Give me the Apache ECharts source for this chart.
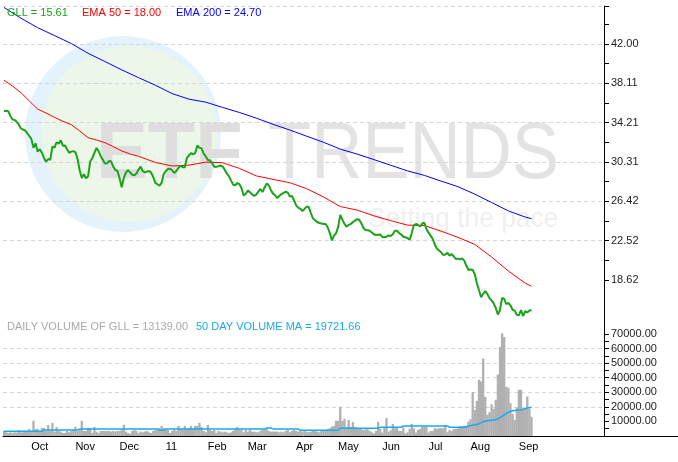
<!DOCTYPE html>
<html>
<head>
<meta charset="utf-8">
<script src="https://cdn.jsdelivr.net/npm/echarts@6/dist/echarts.min.js"></script>
<style>
  html, body { margin: 0; padding: 0; background: #fff; }
  #chart { width: 678px; height: 462px; }
</style>
</head>
<body>
<div id="chart"></div>
<script>
// GLL daily close, one value per trading day from 2010-09-15
const gll = [
  35.37, 35.37, 35.35, 34.87, 34.54, 34.47, 34.29, 34.03, 33.64, 33.53,
  33.44, 33.19, 32.89, 32.59, 31.72, 32.16, 31.34, 31.58, 31.23, 30.71,
  30.34, 30.61, 30.52, 31.83, 31.73, 32.27, 32.12, 32.46, 31.92, 31.94,
  31.57, 31.23, 31.34, 31.39, 31.27, 30.61, 29.47, 28.72, 29.09, 28.71,
  28.90, 30.37, 30.69, 31.22, 31.70, 31.38, 30.89, 30.55, 30.16, 30.19,
  30.41, 30.36, 29.83, 29.52, 29.42, 28.68, 27.82, 28.73, 29.27, 29.51,
  29.29, 29.05, 28.99, 29.18, 29.56, 29.85, 29.40, 29.29, 29.36, 29.42,
  29.26, 28.83, 28.24, 28.11, 27.96, 28.27, 29.12, 29.42, 29.61, 29.64,
  29.49, 29.23, 29.42, 29.74, 29.95, 29.79, 29.79, 30.71, 30.98, 31.18,
  31.08, 31.22, 31.95, 31.72, 31.66, 31.13, 30.86, 30.51, 30.47, 30.21,
  29.85, 29.85, 29.90, 29.97, 29.88, 29.55, 29.17, 28.91, 28.49, 28.08,
  28.00, 28.23, 28.11, 27.74, 26.99, 27.17, 27.48, 27.33, 27.10, 26.96,
  27.08, 27.38, 27.64, 27.34, 27.79, 28.18, 27.99, 27.52, 27.18, 27.02,
  26.74, 26.94, 27.14, 27.24, 27.37, 27.28, 26.90, 26.94, 26.52, 26.01,
  25.79, 25.68, 25.46, 25.67, 25.90, 25.85, 25.26, 24.73, 24.53, 24.37,
  24.27, 24.23, 24.17, 24.17, 23.85, 23.30, 22.55, 23.01, 23.25, 23.88,
  25.08, 24.60, 24.18, 23.90, 24.09, 24.17, 24.37, 24.51, 24.65, 24.59,
  24.25, 23.80, 23.57, 23.56, 23.51, 23.33, 23.16, 23.08, 23.11, 23.14,
  22.89, 22.86, 22.91, 23.04, 22.98, 23.16, 23.51, 23.50, 23.26, 23.13,
  22.91, 22.86, 22.77, 22.61, 23.27, 24.03, 24.17, 24.07, 23.92, 24.22,
  24.30, 23.67, 23.31, 23.02, 22.68, 22.14, 21.72, 21.54, 21.37, 21.10,
  21.14, 21.31, 21.04, 21.19, 20.97, 20.71, 20.74, 20.67, 20.75, 20.54,
  20.03, 19.61, 19.67, 19.63, 19.19, 18.32, 17.60, 16.91, 17.26, 17.52,
  17.23, 16.83, 16.60, 16.31, 15.85, 15.20, 15.65, 16.86, 16.76, 16.22,
  16.36, 16.09, 15.67, 15.59, 15.17, 15.13, 15.65, 15.05, 15.55, 15.40,
  15.62, 15.61
];

// moving averages: [trading-day index, value]
const ema50 = [
  [0, 38.41], [4, 37.84], [8, 37.19], [12, 36.36], [16, 35.56], [20, 35.16],
  [24, 34.74], [28, 34.35], [32, 34.01], [36, 33.39], [40, 32.72], [44, 32.49],
  [48, 32.23], [52, 31.83], [56, 31.41], [60, 31.10], [64, 30.88], [72, 30.27],
  [80, 29.92], [88, 30.00], [96, 30.30], [104, 30.24], [112, 29.68], [120, 28.94],
  [128, 28.59], [136, 28.26], [144, 27.67], [152, 26.85], [160, 25.90], [168, 25.55],
  [176, 24.98], [184, 24.50], [192, 24.06], [200, 24.02], [208, 23.46], [216, 22.85],
  [224, 22.15], [232, 20.90], [240, 19.51], [248, 18.31], [251, 18.00]
];
const ema200 = [
  [0, 45.62], [8, 44.56], [16, 43.62], [24, 42.84], [32, 42.05], [40, 41.08],
  [48, 40.27], [56, 39.44], [64, 38.67], [72, 37.92], [80, 37.09], [88, 36.54],
  [96, 36.24], [104, 35.72], [112, 35.22], [120, 34.66], [128, 34.05], [136, 33.48],
  [144, 32.87], [152, 32.27], [160, 31.59], [168, 31.10], [176, 30.55], [184, 29.99],
  [192, 29.43], [200, 28.99], [208, 28.42], [216, 27.87], [224, 27.13], [232, 26.30],
  [240, 25.47], [248, 24.86], [251, 24.70]
];

// daily volume, same trading days as gll
const volume = [
  3470, 2540, 2080, 2540, 2080, 2540, 2310, 4160, 2540, 2540,
  3470, 3470, 4850, 3000, 10400, 4850, 4850, 3470, 5540, 5540,
  3470, 7620, 3470, 9010, 3000, 6240, 3470, 3000, 2080, 2080,
  3470, 2540, 3470, 4160, 6240, 3470, 4160, 10400, 3470, 3470,
  5540, 5310, 2080, 6240, 3000, 2080, 3470, 3470, 3470, 3470,
  3470, 3000, 3470, 3000, 3470, 3470, 4160, 7620, 3000, 2080,
  1620, 3470, 4160, 3470, 2080, 3000, 2540, 3000, 3470, 2540,
  2080, 3470, 4160, 4620, 5540, 6930, 5540, 4620, 4160, 2080,
  3470, 4160, 3470, 6930, 4620, 4620, 6930, 4620, 5540, 6930,
  4620, 6930, 6930, 9010, 6240, 3470, 2540, 7620, 4160, 3470,
  4160, 2080, 3470, 3000, 2540, 3000, 2540, 2080, 2540, 3470,
  4620, 6240, 4160, 4160, 2540, 4160, 3000, 4160, 3000, 3000,
  2540, 2540, 3470, 4160, 4620, 5310, 3470, 3000, 3000, 3000,
  3000, 2540, 3000, 2540, 3470, 4160, 2540, 3470, 4160, 3470,
  3000, 4160, 3000, 3470, 3000, 2540, 3000, 3470, 3470, 3000,
  2540, 4160, 3470, 4160, 4850, 5310, 6470, 6930, 10400, 10400,
  20100, 10400, 11800, 6240, 11000, 6240, 9500, 6240, 5310, 4850,
  4850, 4160, 4620, 4620, 3470, 2540, 1850, 3470, 9700, 4850,
  2310, 5780, 12240, 3000, 3930, 8320, 5310, 5780, 3470, 3470,
  5780, 1850, 2540, 4850, 8320, 5310, 2310, 4160, 4850, 6240,
  6470, 6470, 2310, 3470, 3470, 5310, 4850, 5310, 5310, 5310,
  7620, 2540, 4160, 3470, 4850, 4850, 5310, 6700, 6700, 7160,
  7160, 9900, 11500, 30100, 17900, 24100, 38600, 37500, 53100, 26900,
  14500, 16300, 21800, 18600, 24800, 42100, 61000, 70400, 67900, 33800,
  33100, 22500, 15200, 11000, 19600, 31700, 31700, 18600, 18600, 27100,
  18600, 13139
];
const volumeMa = [
  [0, 3230], [18, 3230], [19, 4160], [35, 4160], [36, 4850], [73, 4850],
  [74, 3930], [76, 3930], [77, 4850], [124, 4850], [125, 5540], [127, 5540],
  [128, 4850], [140, 4850], [141, 3930], [159, 3930], [160, 5300], [178, 5300],
  [179, 6000], [189, 6000], [190, 6900], [211, 6900], [212, 6000], [220, 6000],
  [221, 6930], [226, 8300], [228, 9900], [231, 10600], [234, 11100], [237, 13400],
  [240, 16400], [242, 17300], [246, 18000], [249, 19200], [251, 19721.66]
];

// axis labels
const priceTicks = [18.62, 22.52, 26.42, 30.31, 34.21, 38.11, 42.00];
const volumeTicks = [10000, 20000, 30000, 40000, 50000, 60000, 70000];
const monthNames = ['11', 'Feb', 'Mar', 'Apr', 'May', 'Jun', 'Jul', 'Aug', 'Sep', 'Oct', 'Nov', 'Dec'];

const firstDay = '2010-09-15';
const holidays = ['2010-11-25', '2010-12-24', '2011-01-17', '2011-02-21',
  '2011-04-22', '2011-05-30', '2011-07-04', '2011-09-05'];
const totalSlots = 286; // empty room after the last bar, as on the original

const PRICE_MIN = 14.72667, PRICE_MAX = 45.768;
const VOL_MAX = 80000;

function tradingDays(start, count) {
  const out = [];
  const d = new Date(start + 'T00:00:00Z');
  while (out.length < count) {
    const wd = d.getUTCDay();
    const s = d.toISOString().slice(0, 10);
    if (wd !== 0 && wd !== 6 && holidays.indexOf(s) < 0) out.push(s);
    d.setUTCDate(d.getUTCDate() + 1);
  }
  return out;
}

const days = tradingDays(firstDay, gll.length);
const categories = days.concat(new Array(totalSlots - days.length).fill(''));

function isMonthStart(i) {
  if (i <= 0 || !categories[i]) return false;
  return categories[i].slice(5, 7) !== categories[i - 1].slice(5, 7);
}
function monthLabel(value) {
  if (!value) return '';
  return monthNames[+value.slice(5, 7) - 1];
}

// minor ticks sit halfway between labelled ones
const priceStep = (priceTicks[priceTicks.length - 1] - priceTicks[0]) / (priceTicks.length - 1);
const priceMinor = priceTicks.map((v, k) => k < priceTicks.length - 1 ? (v + priceTicks[k + 1]) / 2 : v + priceStep / 2);
const volumeMinor = [volumeTicks[0] / 2].concat(volumeTicks.slice(0, -1).map((v, k) => (v + volumeTicks[k + 1]) / 2));

const FONT = '"Liberation Sans", Arial, sans-serif';
const last = arr => arr[arr.length - 1];
const lastVal = arr => { const v = last(arr); return Array.isArray(v) ? v[1] : v; };

const chart = echarts.init(document.getElementById('chart'), null, { renderer: 'canvas' });

function label(text, x, y, color) {
  return {
    type: 'text', x: x, y: y, z: 10,
    style: { text: text, fill: color, font: '11px ' + FONT, verticalAlign: 'middle', textVerticalAlign: 'middle' }
  };
}

// an extra right-hand axis that only draws the short in-between ticks
function minorAxis(grid, min, max, values) {
  return {
    type: 'value', gridIndex: grid, position: 'right', min: min, max: max,
    axisLine: { show: false },
    axisTick: { show: true, length: 5, customValues: values, lineStyle: { color: '#000' } },
    axisLabel: { show: false },
    splitLine: { show: false }
  };
}

chart.setOption({
  animation: false,
  textStyle: { fontFamily: FONT },
  grid: [
    { left: 3, right: 74, top: 6, height: 313.33, containLabel: false },
    { left: 3, right: 74, top: 319.33, height: 116.67, containLabel: false }
  ],
  xAxis: [
    { type: 'category', gridIndex: 0, data: categories, show: false },
    {
      type: 'category', gridIndex: 1, data: categories,
      axisLine: { lineStyle: { color: '#000', width: 1 } },
      axisTick: {
        alignWithLabel: true, length: 19,
        interval: (i) => isMonthStart(i),
        lineStyle: { color: '#000' }
      },
      axisLabel: {
        interval: (i) => isMonthStart(i),
        formatter: (v) => monthLabel(v),
        align: 'left', padding: [0, 0, 0, 2], margin: 5,
        color: '#000', fontSize: 11, fontFamily: FONT
      },
      splitLine: { show: false }
    }
  ],
  yAxis: [
    {
      type: 'value', gridIndex: 0, position: 'right',
      min: PRICE_MIN, max: PRICE_MAX, interval: 3.89667,
      axisLine: { show: true, lineStyle: { color: '#000' } },
      axisTick: { show: true, length: 5, customValues: priceTicks.concat([PRICE_MAX]), lineStyle: { color: '#000' } },
      axisLabel: {
        customValues: priceTicks, formatter: (v) => v.toFixed(2),
        margin: 7, color: '#222', fontSize: 11, fontFamily: FONT
      },
      splitLine: { show: true, showMinLine: false, lineStyle: { color: '#d6d6d6', type: [4, 3] } }
    },
    {
      type: 'value', gridIndex: 1, position: 'right',
      min: 0, max: VOL_MAX, interval: 10000,
      axisLine: { show: true, lineStyle: { color: '#000' } },
      axisTick: { show: true, length: 5, customValues: volumeTicks, lineStyle: { color: '#000' } },
      axisLabel: {
        customValues: volumeTicks, formatter: (v) => v.toFixed(2),
        margin: 7, color: '#222', fontSize: 11, fontFamily: FONT
      },
      splitLine: { show: true, showMinLine: false, showMaxLine: false, lineStyle: { color: '#d6d6d6', type: [4, 3] } }
    },
    minorAxis(0, PRICE_MIN, PRICE_MAX, priceMinor),
    minorAxis(1, 0, VOL_MAX, volumeMinor)
  ],
  graphic: [
    // ETF Trends watermark behind the plot
    { type: 'circle', z: -3, shape: { cx: 123, cy: 134, r: 98 }, style: { fill: '#e4f3fb' } },
    { type: 'circle', z: -3, shape: { cx: 129, cy: 134, r: 88 }, style: { fill: '#ecf6e9' } },
    {
      type: 'text', z: -2, x: 96, y: 156, scaleX: 0.97,
      style: { text: 'ETF', fill: '#dedede', font: 'bold 80px ' + FONT, verticalAlign: 'middle', textVerticalAlign: 'middle' }
    },
    {
      type: 'text', z: -2, x: 268, y: 156, scaleX: 0.885,
      style: { text: 'TRENDS', fill: '#e3e3e3', font: '80px ' + FONT, verticalAlign: 'middle', textVerticalAlign: 'middle' }
    },
    {
      type: 'text', z: -2, x: 368, y: 219, scaleX: 0.94,
      style: { text: 'Setting the pace', fill: '#efefef', font: '28px ' + FONT, verticalAlign: 'middle', textVerticalAlign: 'middle' }
    },
    // the bottom rule runs on past the price axis to the page edge
    { type: 'line', z: 5, shape: { x1: 604, y1: 436.5, x2: 678, y2: 436.5 }, style: { stroke: '#000', lineWidth: 1 } },
    label('GLL = ' + lastVal(gll).toFixed(2), 7, 13, '#1aa31a'),
    label('EMA 50 = ' + lastVal(ema50).toFixed(2), 82, 13, '#ff0000'),
    label('EMA 200 = ' + lastVal(ema200).toFixed(2), 176, 13, '#0000ff'),
    label('DAILY VOLUME OF GLL = ' + lastVal(volume).toFixed(2), 7, 327, '#a9a9a9'),
    label('50 DAY VOLUME MA = ' + lastVal(volumeMa).toFixed(2), 196, 327, '#19a9ef')
  ],
  series: [
    {
      name: 'EMA 200', type: 'line', xAxisIndex: 0, yAxisIndex: 0, data: ema200,
      showSymbol: false, silent: true, z: 3,
      lineStyle: { color: '#0000ff', width: 1 }
    },
    {
      name: 'EMA 50', type: 'line', xAxisIndex: 0, yAxisIndex: 0, data: ema50,
      showSymbol: false, silent: true, z: 3,
      lineStyle: { color: '#ff0000', width: 1 }
    },
    {
      name: 'GLL', type: 'line', xAxisIndex: 0, yAxisIndex: 0, data: gll,
      showSymbol: false, silent: true, z: 4,
      lineStyle: { color: '#1aa31a', width: 2 }
    },
    {
      name: 'Volume', type: 'bar', xAxisIndex: 1, yAxisIndex: 1, data: volume,
      barWidth: 2.3, silent: true,
      itemStyle: { color: '#b0b0b0' }
    },
    {
      name: 'Volume MA', type: 'line', xAxisIndex: 1, yAxisIndex: 1, data: volumeMa,
      showSymbol: false, silent: true, z: 4,
      lineStyle: { color: '#19a9ef', width: 1.5 }
    }
  ]
});
</script>
</body>
</html>
